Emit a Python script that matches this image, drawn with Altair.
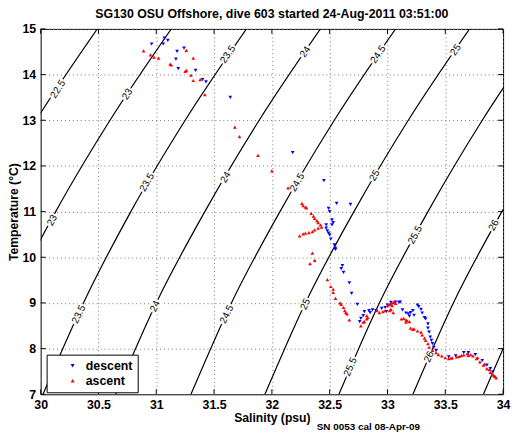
import altair as alt
import pandas as pd

FONT = "Liberation Sans"

title_text = "SG130 OSU Offshore, dive 603 started 24-Aug-2011 03:51:00"
footer_text = "SN 0053 cal 08-Apr-09"

x_ticks = [30, 30.5, 31, 31.5, 32, 32.5, 33, 33.5, 34]
y_ticks = [7, 8, 9, 10, 11, 12, 13, 14, 15]

# Isopycnals (sigma-theta): salinity at T = 7, 9, 11, 13, 15
contour_T = [7, 9, 11, 13, 15]
contour_S = {
    "22.5": [28.73, 29.08, 29.49, 29.96, 30.49],
    "23": [29.37, 29.72, 30.13, 30.60, 31.13],
    "23.5": [30.02, 30.37, 30.78, 31.25, 31.78],
    "24": [30.65, 31.00, 31.42, 31.89, 32.42],
    "24.5": [31.30, 31.65, 32.07, 32.54, 33.07],
    "25": [31.94, 32.29, 32.71, 33.18, 33.71],
    "25.5": [32.58, 32.93, 33.35, 33.82, 34.35],
    "26": [33.22, 33.57, 33.99, 34.46, 34.99],
    "26.5": [33.83, 34.18, 34.60, 35.07, 35.60],
}

label_text = ["22.5", "23", "23.5", "24", "24.5", "25",
              "23", "23.5", "24", "24.5", "25", "25.5", "26",
              "23.5", "24", "24.5", "25", "25.5", "26"]
label_S = [30.15, 30.75, 31.62, 32.29, 32.92, 33.59,
           30.10, 30.92, 31.60, 32.22, 32.89, 33.24, 33.92,
           30.33, 30.99, 31.61, 32.29, 32.68, 33.36]
label_T = [13.68, 13.57, 14.44, 14.50, 14.44, 14.54,
           10.81, 11.64, 11.75, 11.64, 11.79, 10.49, 10.70,
           8.75, 8.93, 8.75, 8.97, 7.60, 7.82]

descent_S = [30.96, 31.07, 31.10, 31.06, 31.18, 31.24, 31.17, 31.19, 31.34, 31.40,
             31.43, 31.64, 32.18, 32.45, 32.56, 32.68, 32.49, 32.50, 32.52, 32.53,
             32.52, 32.47, 32.47, 32.48, 32.49, 32.50, 32.51, 32.54, 32.55, 32.55,
             32.61, 32.60, 32.62, 32.67, 32.69, 32.74, 32.80, 32.79, 32.84, 32.85,
             32.77, 32.76, 32.87, 32.90, 32.95, 33.00, 33.03, 33.07, 33.10, 33.11,
             32.98, 32.99, 33.13, 33.16, 33.18, 33.20, 33.22, 33.19, 33.23, 33.26,
             33.27, 33.29, 33.30, 33.32, 33.33, 33.35, 33.35, 33.36, 33.37, 33.38,
             33.39, 33.40, 33.42, 33.53, 33.59, 33.66, 33.70, 33.76, 33.82, 33.86,
             33.89, 33.91]
descent_T = [14.67, 14.80, 14.75, 14.67, 14.51, 14.58, 14.34, 14.13, 14.09, 13.89,
             13.84, 13.50, 12.29, 11.68, 11.18, 11.16, 11.07, 11.00, 10.82, 10.76,
             10.71, 10.71, 10.64, 10.58, 10.53, 10.49, 10.40, 10.27, 10.20, 10.17,
             9.82, 9.75, 9.67, 9.44, 9.21, 8.97, 8.81, 8.72, 8.83, 8.79,
             8.66, 8.59, 8.85, 8.83, 8.88, 8.95, 9.01, 9.02, 9.01, 9.02,
             8.90, 8.81, 8.85, 8.78, 8.76, 8.79, 8.83, 8.71, 8.73, 8.95,
             8.92, 8.86, 8.78, 8.68, 8.65, 8.54, 8.45, 8.36, 8.25, 8.18,
             8.11, 8.03, 7.96, 7.82, 7.84, 7.91, 7.91, 7.87, 7.74, 7.64,
             7.56, 7.49]

ascent_S = [30.89, 30.95, 30.98, 31.02, 31.26, 31.32, 31.12, 31.13, 31.25, 31.26,
            31.30, 31.32, 31.38, 31.42, 31.68, 31.72, 31.88, 32.00, 32.14, 32.26,
            32.27, 32.29, 32.30, 32.34, 32.36, 32.37, 32.39, 32.40, 32.42, 32.43,
            32.40, 32.37, 32.35, 32.32, 32.29, 32.27, 32.24, 32.35, 32.37, 32.33,
            32.48, 32.51, 32.53, 32.53, 32.55, 32.59, 32.60, 32.62, 32.63, 32.64,
            32.65, 32.67, 32.77, 32.79, 32.80, 32.82, 32.83, 32.82, 32.91, 32.93,
            32.96, 32.98, 33.00, 33.02, 33.03, 33.05, 33.06, 33.07, 33.04, 33.03,
            33.02, 33.05, 33.12, 33.14, 33.16, 33.17, 33.19, 33.16, 33.20, 33.22,
            33.23, 33.26, 33.29, 33.30, 33.32, 33.33, 33.35, 33.36, 33.39, 33.42,
            33.44, 33.47, 33.50, 33.53, 33.55, 33.56, 33.60, 33.62, 33.64, 33.66,
            33.69, 33.70, 33.72, 33.74, 33.77, 33.78, 33.80, 33.83, 33.84, 33.86,
            33.88, 33.89, 33.91, 33.92, 33.93, 33.94]
ascent_T = [14.52, 14.43, 14.38, 14.36, 14.53, 14.36, 14.23, 14.21, 14.07, 14.09,
            13.99, 13.87, 13.89, 13.56, 12.85, 12.64, 12.23, 11.89, 11.52, 11.18,
            11.13, 11.10, 11.08, 10.96, 10.90, 10.85, 10.80, 10.76, 10.71, 10.66,
            10.64, 10.60, 10.56, 10.54, 10.53, 10.51, 10.47, 10.09, 9.93, 9.86,
            9.51, 9.36, 9.30, 9.23, 9.10, 9.00, 8.97, 8.90, 8.83, 8.79,
            8.76, 8.63, 8.50, 8.58, 8.59, 8.65, 8.68, 8.72, 8.83, 8.79,
            8.81, 8.83, 8.94, 8.97, 8.99, 9.01, 9.02, 8.99, 8.94, 8.86,
            8.83, 8.79, 8.65, 8.66, 8.63, 8.61, 8.59, 8.58, 8.45, 8.42,
            8.43, 8.39, 8.36, 8.30, 8.23, 8.18, 8.11, 8.03, 7.96, 7.91,
            7.87, 7.84, 7.80, 7.78, 7.79, 7.80, 7.82, 7.83, 7.85, 7.86,
            7.89, 7.85, 7.87, 7.84, 7.78, 7.80, 7.71, 7.64, 7.66, 7.56,
            7.54, 7.48, 7.44, 7.41, 7.39, 7.36]

# ---- tables ----
iso_rows = []
for lvl, s_vals in contour_S.items():
    for s, t in zip(s_vals, contour_T):
        iso_rows.append({"level": lvl, "S": s, "T": t})
iso_df = pd.DataFrame(iso_rows)

lab_df = pd.DataFrame({"label": label_text, "S": label_S, "T": label_T})

pts_df = pd.concat([
    pd.DataFrame({"S": descent_S, "T": descent_T, "cast": "descent"}),
    pd.DataFrame({"S": ascent_S, "T": ascent_T, "cast": "ascent"}),
], ignore_index=True)

xscale = alt.Scale(domain=[30, 34], nice=False, zero=False)
yscale = alt.Scale(domain=[7, 15], nice=False, zero=False)

xaxis = alt.Axis(values=x_ticks, labelExpr="datum.value", title="Salinity (psu)",
                 grid=True, gridDash=[1, 3], gridColor="#777", gridOpacity=1,
                 ticks=False, tickSize=0, domain=False, labelPadding=4,
                 labelFont=FONT, labelFontSize=12.5, labelFontWeight="bold", labelColor="black",
                 labelFlush=False, titleFont=FONT, titleFontSize=12.3, titleFontWeight="bold",
                 titleColor="black", titlePadding=1)
yaxis = alt.Axis(values=y_ticks, labelExpr="datum.value", title="Temperature (\u00b0C)",
                 grid=True, gridDash=[1, 3], gridColor="#777", gridOpacity=1,
                 ticks=False, tickSize=0, domain=False, labelPadding=5,
                 labelFont=FONT, labelFontSize=12.5, labelFontWeight="bold", labelColor="black",
                 labelFlush=False, titleFont=FONT, titleFontSize=12.3, titleFontWeight="bold",
                 titleColor="black", titleX=-27, titleBaseline="middle")

base_x = alt.X("S:Q", scale=xscale, axis=xaxis)
base_y = alt.Y("T:Q", scale=yscale, axis=yaxis)

lines = alt.Chart(iso_df).mark_line(color="black", strokeWidth=1.2, clip=True,
                                    interpolate="monotone").encode(
    x=base_x, y=base_y, detail="level:N", order="T:Q")

angle_enc = alt.Angle("T:Q", scale=alt.Scale(domain=[7, 15], range=[293, 305]))

halo = alt.Chart(lab_df).mark_text(font=FONT, fontSize=10, fill="white", stroke="white",
                                   strokeWidth=4).encode(
    x=alt.X("S:Q", scale=xscale), y=alt.Y("T:Q", scale=yscale), text="label:N", angle=angle_enc)
labels = alt.Chart(lab_df).mark_text(font=FONT, fontSize=10, color="black").encode(
    x=alt.X("S:Q", scale=xscale), y=alt.Y("T:Q", scale=yscale), text="label:N", angle=angle_enc)

legend_cfg = dict(title=None, orient="none", legendX=6, legendY=329,
                  strokeColor="black", fillColor="white", padding=5,
                  labelFont=FONT, labelFontSize=12.5, labelFontWeight="bold",
                  labelColor="black", symbolSize=16, symbolOffset=15,
                  labelOffset=7, rowPadding=2, cornerRadius=0)

points = alt.Chart(pts_df).mark_point(filled=True, size=14, opacity=1).encode(
    x=alt.X("S:Q", scale=xscale), y=alt.Y("T:Q", scale=yscale),
    color=alt.Color("cast:N", scale=alt.Scale(domain=["descent", "ascent"], range=["#0000ff", "#ff0000"]),
                    legend=alt.Legend(**legend_cfg)),
    shape=alt.Shape("cast:N", scale=alt.Scale(domain=["descent", "ascent"],
                                              range=["triangle-down", "triangle-up"]),
                    legend=alt.Legend(**legend_cfg)),
    order=alt.Order("cast:N", sort="descending"),
)

xt_df = pd.DataFrame({"S": x_ticks})
yt_df = pd.DataFrame({"T": y_ticks})
tick_b = alt.Chart(xt_df).mark_rule(color="black").encode(
    x=alt.X("S:Q", scale=xscale), y=alt.value(369), y2=alt.value(364))
tick_t = alt.Chart(xt_df).mark_rule(color="black").encode(
    x=alt.X("S:Q", scale=xscale), y=alt.value(0), y2=alt.value(5))
tick_l = alt.Chart(yt_df).mark_rule(color="black").encode(
    y=alt.Y("T:Q", scale=yscale), x=alt.value(0), x2=alt.value(5))
tick_r = alt.Chart(yt_df).mark_rule(color="black").encode(
    y=alt.Y("T:Q", scale=yscale), x=alt.value(467), x2=alt.value(462))

footer = alt.Chart(pd.DataFrame({"t": [footer_text]})).mark_text(
    font=FONT, fontSize=10, fontWeight="bold", color="black").encode(
    text="t:N", x=alt.value(331), y=alt.value(402))

chart = alt.layer(lines, halo, labels, tick_b, tick_t, tick_l, tick_r, points, footer).properties(
    width=467, height=369,
    title=alt.TitleParams(title_text, font=FONT, fontSize=12.5, fontWeight="bold",
                          color="black", frame="group", offset=3),
    autosize=alt.AutoSizeParams(type="none"),
    padding={"left": 33, "top": 19, "right": 8, "bottom": 38},
).configure_view(stroke="black", strokeWidth=1)

chart.save("out.html", embed_options={"renderer": "svg", "actions": False})
